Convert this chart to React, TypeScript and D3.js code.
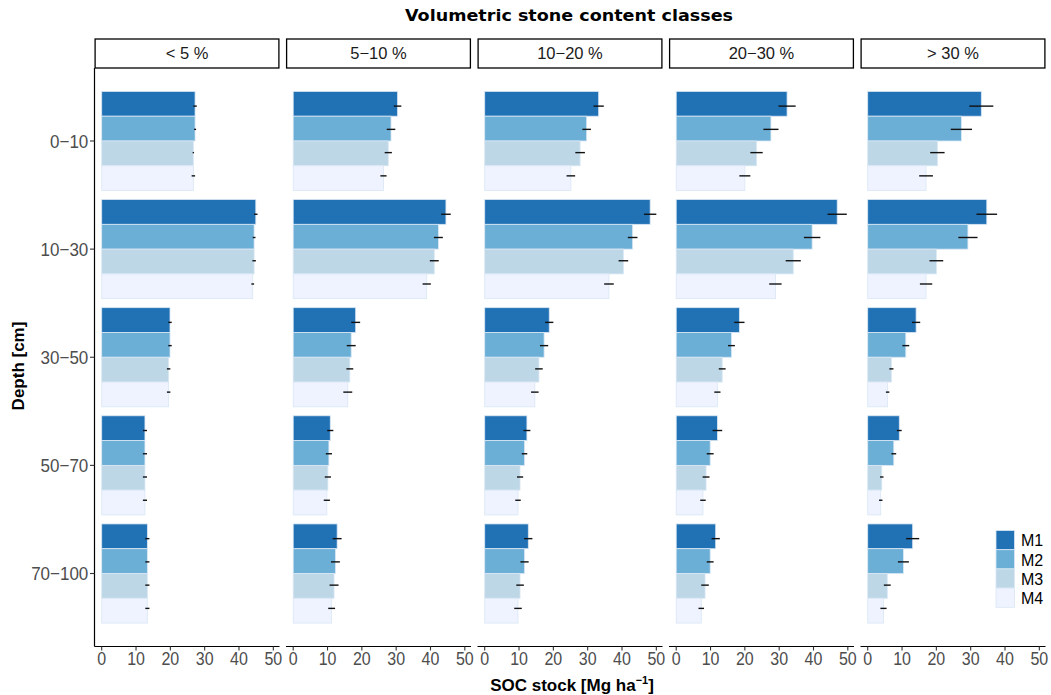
import React from "react";
import * as d3 from "d3";

const depths = ["0−10", "10−30", "30−50", "50−70", "70−100"];
const classes = ["< 5 %", "5−10 %", "10−20 %", "20−30 %", "> 30 %"];
const methods = ["M1", "M2", "M3", "M4"];
const colors = ["#2171b5", "#6baed6", "#bdd7e7", "#eff3ff"];
const xTicks = [0, 10, 20, 30, 40, 50];

// SOC stock means [depth][method]
const meanLt5 = [
  [27.2, 27.2, 26.7, 26.7],
  [44.9, 44.4, 44.4, 44.0],
  [19.9, 19.9, 19.5, 19.5],
  [12.6, 12.6, 12.6, 12.6],
  [13.3, 13.3, 13.3, 13.3],
];
const mean5to10 = [
  [30.4, 28.5, 27.7, 26.3],
  [44.5, 42.3, 41.1, 38.9],
  [18.2, 16.9, 16.5, 15.9],
  [10.8, 10.4, 10.1, 9.8],
  [12.8, 12.3, 11.9, 11.2],
];
const mean10to20 = [
  [33.2, 29.7, 27.8, 25.1],
  [48.2, 43.1, 40.4, 36.2],
  [18.8, 17.3, 15.8, 14.6],
  [12.3, 11.6, 10.3, 9.7],
  [12.7, 11.6, 10.3, 9.7],
];
const mean20to30 = [
  [32.3, 27.6, 23.4, 20.0],
  [46.9, 39.6, 34.1, 28.9],
  [18.4, 16.1, 13.4, 12.0],
  [12.0, 9.9, 8.7, 7.8],
  [11.5, 9.9, 8.4, 7.3],
];
const meanGt30 = [
  [33.1, 27.3, 20.3, 17.0],
  [34.7, 29.2, 20.0, 17.0],
  [14.1, 11.1, 6.9, 5.8],
  [9.2, 7.6, 4.1, 3.8],
  [13.1, 10.4, 5.7, 4.6],
];

// standard errors [depth][method]
const errLt5 = [
  [0.5, 0.3, 0.2, 0.5],
  [0.5, 0.4, 0.5, 0.4],
  [0.5, 0.5, 0.5, 0.5],
  [0.6, 0.6, 0.6, 0.6],
  [0.6, 0.6, 0.6, 0.6],
];
const err5to10 = [
  [1.1, 1.25, 1.05, 0.9],
  [1.4, 1.3, 1.3, 1.2],
  [1.3, 1.3, 1.0, 1.3],
  [0.9, 0.9, 0.9, 0.9],
  [1.3, 1.3, 1.3, 1.0],
];
const err10to20 = [
  [1.5, 1.25, 1.4, 1.25],
  [1.8, 1.4, 1.4, 1.4],
  [1.2, 1.2, 1.1, 1.1],
  [1.0, 0.8, 0.9, 0.8],
  [1.2, 1.2, 1.1, 1.1],
];
const err20to30 = [
  [2.5, 2.2, 1.8, 1.6],
  [2.8, 2.4, 2.2, 1.8],
  [1.5, 1.0, 1.0, 0.9],
  [1.4, 1.0, 1.0, 0.8],
  [1.2, 1.0, 1.1, 0.8],
];
const errGt30 = [
  [3.5, 3.1, 2.1, 2.0],
  [3.0, 2.8, 2.0, 1.8],
  [1.2, 1.0, 0.6, 0.5],
  [0.7, 0.7, 0.5, 0.5],
  [1.9, 1.6, 1.0, 0.9],
];

const means = [meanLt5, mean5to10, mean10to20, mean20to30, meanGt30];
const errs = [errLt5, err5to10, err10to20, err20to30, errGt30];

const W = 1051;
const H = 695;
const panelLeft0 = 94.5;
const panelStep = 191.5;
const panelW = 185;
const panelTop = 68;
const panelBottom = 646.5;
const stripTop = 39;

const FONT = "'Liberation Sans', Arial, sans-serif";

export default function App() {
  const y = d3
    .scalePoint<string>()
    .domain(depths)
    .range([panelTop, panelBottom])
    .padding(0.675);
  const step = y.step();
  const barBand = d3
    .scaleBand<string>()
    .domain(methods)
    .range([-0.917 * step / 2, 0.917 * step / 2])
    .paddingInner(0);
  const errBand = d3
    .scaleBand<string>()
    .domain(methods)
    .range([-0.86 * step / 2, 0.86 * step / 2])
    .paddingInner(0);

  const xFor = (pi: number) =>
    d3
      .scaleLinear()
      .domain([-2.1, 51.8])
      .range([panelLeft0 + pi * panelStep, panelLeft0 + pi * panelStep + panelW]);

  const legendX = 996;
  const legendY = 530.5;
  const keyW = 18.5;
  const keyH = 19.2;

  return (
    <svg
      width={W}
      height={H}
      style={{ position: "absolute", left: 0, top: 0, background: "#fff" }}
      fontFamily={FONT}
    >
      <rect x={0} y={0} width={W} height={H} fill="#fff" />
      {/* Title */}
      <text
        x={569}
        y={20.5}
        textAnchor="middle"
        fontFamily="'DejaVu Sans', Verdana, sans-serif"
        fontWeight="bold"
        fontSize={15}
        textLength={328}
        lengthAdjust="spacingAndGlyphs"
        fill="#000"
      >
        Volumetric stone content classes
      </text>

      {classes.map((cls, pi) => {
        const x = xFor(pi);
        const left = panelLeft0 + pi * panelStep;
        return (
          <g key={cls}>
            {/* strip */}
            <rect
              x={left + 0.6}
              y={stripTop}
              width={panelW - 1.2}
              height={panelTop - stripTop}
              fill="#fff"
              stroke="#000"
              strokeWidth={1.3}
            />
            <text
              x={left + panelW / 2}
              y={59.3}
              textAnchor="middle"
              fontSize={16.5}
              fill="#1a1a1a"
            >
              {cls}
            </text>
            {/* bars */}
            {depths.map((dep, di) =>
              methods.map((m, mi) => {
                const v = means[pi][di][mi];
                const yc = (y(dep) as number) + (barBand(m) as number);
                return (
                  <rect
                    key={dep + m}
                    x={x(0)}
                    y={yc}
                    width={x(v) - x(0)}
                    height={barBand.bandwidth()}
                    fill={colors[mi]}
                    stroke="#d9e7f4"
                    strokeWidth={0.8}
                  />
                );
              })
            )}
            {/* error bars */}
            {depths.map((dep, di) =>
              methods.map((m, mi) => {
                const v = means[pi][di][mi];
                const e = errs[pi][di][mi];
                const ye =
                  (y(dep) as number) + (errBand(m) as number) + errBand.bandwidth() / 2;
                return (
                  <line
                    key={"e" + dep + m}
                    x1={x(v - e)}
                    x2={x(v + e)}
                    y1={ye}
                    y2={ye}
                    stroke="#111"
                    strokeWidth={1.4}
                  />
                );
              })
            )}
            {/* bottom axis */}
            <line
              x1={left}
              x2={left + panelW}
              y1={panelBottom}
              y2={panelBottom}
              stroke="#000"
              strokeWidth={1.2}
            />
            {xTicks.map((t) => (
              <g key={t}>
                <line
                  x1={x(t)}
                  x2={x(t)}
                  y1={panelBottom}
                  y2={panelBottom + 4}
                  stroke="#333"
                  strokeWidth={1.1}
                />
                <text
                  transform={`translate(${x(t)},665) scale(1,1.15)`}
                  textAnchor="middle"
                  fontSize={16}
                  fill="#4d4d4d"
                >
                  {t}
                </text>
              </g>
            ))}
          </g>
        );
      })}

      {/* left axis */}
      <line
        x1={panelLeft0}
        x2={panelLeft0}
        y1={panelTop}
        y2={panelBottom}
        stroke="#000"
        strokeWidth={1.2}
      />
      {depths.map((dep) => (
        <g key={dep}>
          <line
            x1={panelLeft0 - 4.5}
            x2={panelLeft0}
            y1={y(dep) as number}
            y2={y(dep) as number}
            stroke="#333"
            strokeWidth={1.1}
          />
          <text
            transform={`translate(88.3,${(y(dep) as number) + 6.6}) scale(1,1.09)`}
            textAnchor="end"
            fontSize={17}
            fill="#4d4d4d"
          >
            {dep}
          </text>
        </g>
      ))}

      {/* axis titles */}
      <text
        transform={`translate(24,366) rotate(-90)`}
        textAnchor="middle"
        fontSize={17}
        fontWeight="bold"
        fill="#000"
      >
        Depth [cm]
      </text>
      <text x={572} y={691} textAnchor="middle" fontSize={17} fontWeight="bold" fill="#000">
        SOC stock [Mg ha
        <tspan dy={-7} fontSize={11}>
          −1
        </tspan>
        <tspan dy={7}>]</tspan>
      </text>

      {/* legend */}
      {methods.map((m, i) => (
        <g key={m}>
          <rect
            x={legendX}
            y={legendY + i * keyH}
            width={keyW}
            height={keyH}
            fill={colors[i]}
            stroke="#d9e7f4"
            strokeWidth={0.8}
          />
          <text
            x={1021}
            y={legendY + i * keyH + keyH / 2 + 6.2}
            fontSize={16}
            fill="#000"
          >
            {m}
          </text>
        </g>
      ))}
    </svg>
  );
}
